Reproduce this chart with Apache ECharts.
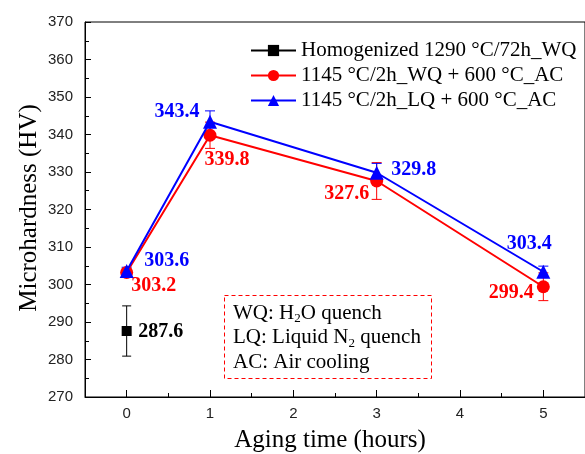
<!DOCTYPE html>
<html>
<head>
<meta charset="utf-8">
<script src="https://cdn.jsdelivr.net/npm/echarts@6/dist/echarts.min.js"></script>
<style>
  html, body { margin: 0; padding: 0; background: #fff; }
  #chart { width: 585px; height: 454px; }
</style>
</head>
<body>
<div id="chart"></div>
<script>
// Aging times (hours) for the heat-treated samples
const agingHours = [0, 1, 3, 5];
// Homogenized reference sample (single point)
const homogenizedHours = [0];
const homogenizedHV = [287.6];
const homogenizedErr = [6.7];
// 1145 °C/2h_WQ + 600 °C_AC
const wqAcHV = [303.2, 339.8, 327.6, 299.4];
const wqAcErr = [1.0, 3.5, 4.9, 3.7];
// 1145 °C/2h_LQ + 600 °C_AC
const lqAcHV = [303.6, 343.4, 329.8, 303.4];
const lqAcErr = [1.0, 2.9, 2.5, 1.5];
// Axis ticks
const xTickValues = [0, 1, 2, 3, 4, 5];
const xMinorTickValues = [0.5, 1.5, 2.5, 3.5, 4.5];
const yMin = 270, yMax = 370, yStep = 10;

const seriesNames = [
  'Homogenized 1290 \u00b0C/72h_WQ',
  '1145 \u00b0C/2h_WQ + 600 \u00b0C_AC',
  '1145 \u00b0C/2h_LQ + 600 \u00b0C_AC'
];

// Value label offsets (px from the marker centre)
const homogenizedLabelOffset = [[34, 1]];
const wqLabelOffset = [[27, 13], [17, 25], [-30, 13], [-32, 6]];
const lqLabelOffset = [[40, -10], [-33, -10], [37, -3], [-14, -28]];

const RED = '#ff0000', BLUE = '#0000ff', BLACK = '#000000';
const SERIF = '"Liberation Serif", "Times New Roman", serif';
const SANS = '"Liberation Sans", Arial, sans-serif';

function pointsWithLabels(xs, ys, offsets, color) {
  return ys.map((v, i) => ({
    value: [xs[i], v],
    label: {
      show: true,
      position: 'inside',
      offset: offsets[i],
      formatter: (p) => p.value[1].toFixed(1),
      color: color,
      fontFamily: SERIF,
      fontWeight: 'bold',
      fontSize: 20
    }
  }));
}

function errorData(xs, ys, errs) {
  return ys.map((v, i) => [xs[i], v - errs[i], v + errs[i]]);
}

function errorBar(name, data, color, cap) {
  return {
    type: 'custom',
    name: name + ' err',
    xAxisIndex: 0,
    yAxisIndex: 0,
    z: 1,
    silent: true,
    data: data,
    renderItem: function (params, api) {
      const x = api.value(0);
      const lo = api.coord([x, api.value(1)]);
      const hi = api.coord([x, api.value(2)]);
      const st = { stroke: color, lineWidth: 1 };
      return {
        type: 'group',
        children: [
          { type: 'line', shape: { x1: lo[0], y1: lo[1], x2: hi[0], y2: hi[1] }, style: st },
          { type: 'line', shape: { x1: lo[0] - cap, y1: lo[1], x2: lo[0] + cap, y2: lo[1] }, style: st },
          { type: 'line', shape: { x1: hi[0] - cap, y1: hi[1], x2: hi[0] + cap, y2: hi[1] }, style: st }
        ]
      };
    }
  };
}

const chart = echarts.init(document.getElementById('chart'), null, { renderer: 'canvas' });

const option = {
  backgroundColor: '#ffffff',
  animation: false,
  grid: {
    left: 85, top: 22, right: -10, bottom: 57,
    show: true, borderColor: '#000', borderWidth: 1, containLabel: false
  },
  legend: {
    orient: 'vertical',
    left: 245,
    top: 35,
    itemWidth: 45,
    itemHeight: 14,
    itemGap: 4,
    data: seriesNames,
    textStyle: { fontFamily: SERIF, fontSize: 21, color: '#000', lineHeight: 21 }
  },
  xAxis: [
    {
      type: 'value',
      min: -0.5,
      max: 5.5,
      position: 'bottom',
      splitLine: { show: false },
      axisLine: { show: true, onZero: false, lineStyle: { color: '#000', width: 1 } },
      axisTick: { show: true, inside: true, length: 7, customValues: xTickValues, lineStyle: { color: '#000' } },
      axisLabel: {
        show: true, customValues: xTickValues, margin: 9,
        fontFamily: SANS, fontSize: 15, color: '#222'
      }
    },
    {
      type: 'value',
      min: -0.5,
      max: 5.5,
      position: 'bottom',
      splitLine: { show: false },
      axisLine: { show: false, onZero: false },
      axisTick: { show: true, inside: true, length: 4, customValues: xMinorTickValues, lineStyle: { color: '#000' } },
      axisLabel: { show: false }
    }
  ],
  yAxis: {
    type: 'value',
    min: yMin,
    max: yMax,
    interval: yStep,
    position: 'left',
    splitLine: { show: false },
    axisLine: { show: true, onZero: false, lineStyle: { color: '#000', width: 1 } },
    axisTick: { show: true, inside: true, length: 6, lineStyle: { color: '#000' } },
    minorTick: { show: true, splitNumber: 2, length: 4, lineStyle: { color: '#000' } },
    axisLabel: { margin: 12, fontFamily: SANS, fontSize: 15, color: '#222' }
  },
  series: [
    errorBar(seriesNames[0], errorData(homogenizedHours, homogenizedHV, homogenizedErr), BLACK, 4.5),
    errorBar(seriesNames[1], errorData(agingHours, wqAcHV, wqAcErr), RED, 5),
    errorBar(seriesNames[2], errorData(agingHours, lqAcHV, lqAcErr), BLUE, 5),
    {
      type: 'line',
      name: seriesNames[0],
      data: pointsWithLabels(homogenizedHours, homogenizedHV, homogenizedLabelOffset, BLACK),
      symbol: 'rect',
      symbolSize: 10,
      z: 3,
      itemStyle: { color: BLACK },
      lineStyle: { color: BLACK, width: 2 }
    },
    {
      type: 'line',
      name: seriesNames[1],
      data: pointsWithLabels(agingHours, wqAcHV, wqLabelOffset, RED),
      symbol: 'circle',
      symbolSize: 13,
      z: 3,
      itemStyle: { color: RED },
      lineStyle: { color: RED, width: 2 }
    },
    {
      type: 'line',
      name: seriesNames[2],
      data: pointsWithLabels(agingHours, lqAcHV, lqLabelOffset, BLUE),
      symbol: 'triangle',
      symbolSize: 14,
      z: 4,
      itemStyle: { color: BLUE },
      lineStyle: { color: BLUE, width: 2 }
    }
  ],
  graphic: [
    {
      type: 'text',
      x: 29, y: 208,
      rotation: Math.PI / 2,
      style: { text: 'Microhardness (HV)', x: 0, y: 0, align: 'center', verticalAlign: 'middle',
        fontFamily: SERIF, fontSize: 25, fill: '#000' }
    },
    {
      type: 'text',
      x: 330, y: 440,
      style: { text: 'Aging time (hours)', x: 0, y: 0, align: 'center', verticalAlign: 'middle',
        fontFamily: SERIF, fontSize: 25, fill: '#000' }
    },
    {
      type: 'rect',
      shape: { x: 224.5, y: 295.5, width: 207, height: 83 },
      style: { fill: '#fff', stroke: RED, lineWidth: 1, lineDash: [4, 3] }
    },
    {
      type: 'text',
      x: 233, y: 301,
      style: {
        text: '{a|WQ: H}{s|2}{a|O quench}\n{a|LQ: Liquid N}{s|2}{a| quench}\n{a|AC: Air cooling}',
        x: 0, y: 0,
        fill: '#000',
        rich: {
          a: { fontFamily: SERIF, fontSize: 21, lineHeight: 24.5, fill: '#000' },
          s: { fontFamily: SERIF, fontSize: 13, lineHeight: 13, verticalAlign: 'bottom', fill: '#000' }
        }
      }
    }
  ]
};

chart.setOption(option);
</script>
</body>
</html>
